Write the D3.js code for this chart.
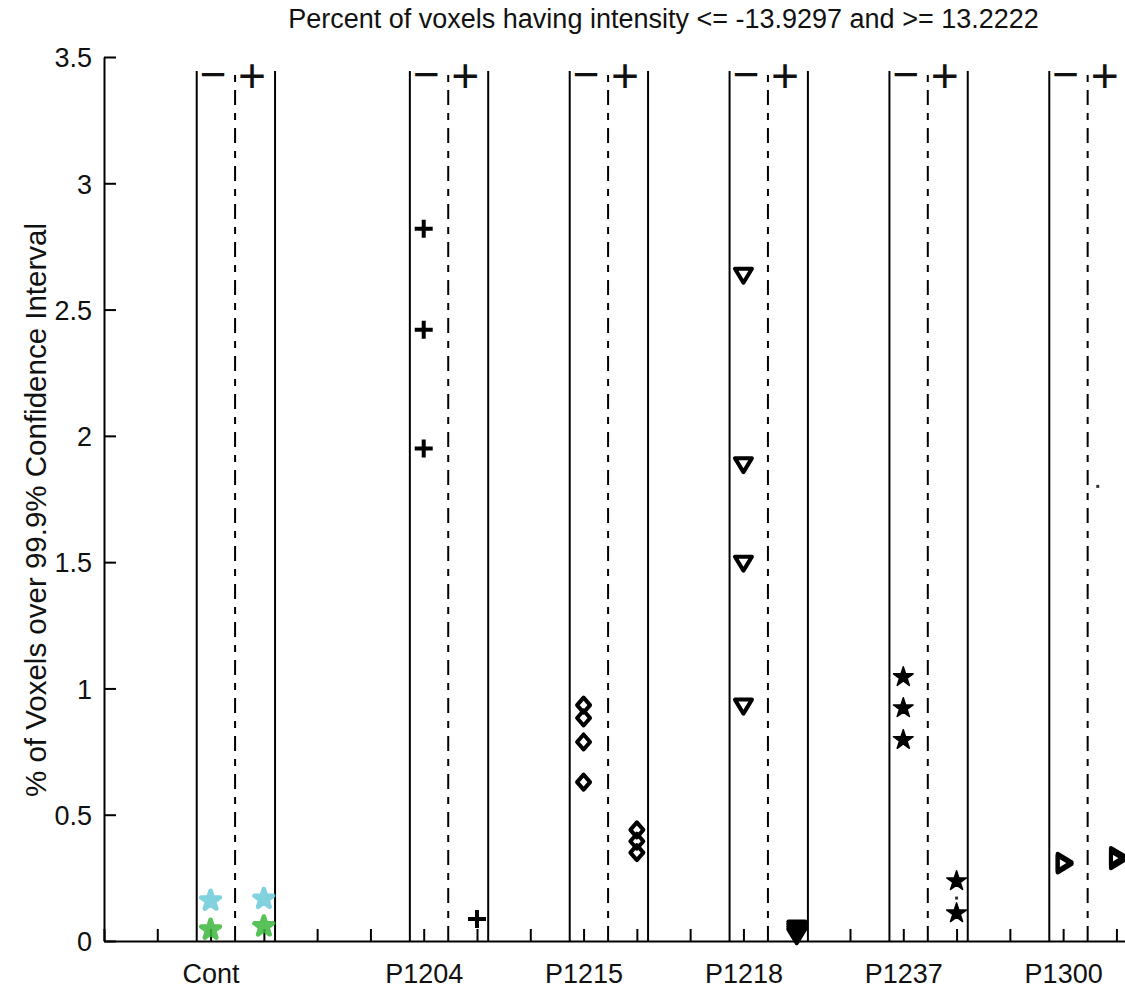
<!DOCTYPE html>
<html>
<head>
<meta charset="utf-8">
<script src="https://cdn.jsdelivr.net/npm/d3@7"></script>
<style>
  body { margin: 0; background: #fff; }
  text { font-family: "Liberation Sans", Arial, sans-serif; fill: #111; }
  .axis path, .axis line { stroke: #000; stroke-width: 2; }
</style>
</head>
<body>
<div id="chart"></div>
<script>
// categories and where they sit on the x axis
const groups = ["Cont", "P1204", "P1215", "P1218", "P1237", "P1300"];
const groupPos = [2, 6, 9, 12, 15, 18];

// "-" side (x = pos) and "+" side (x = pos + 1) values, % of voxels
const minusValues = [
  [0.16, 0.045],
  [2.82, 2.42, 1.95],
  [0.934, 0.883, 0.788, 0.629],
  [2.64, 1.89, 1.50, 0.934],
  [1.045, 0.922, 0.796],
  [0.305, 0.312]
];
const plusValues = [
  [0.167, 0.058],
  [0.087],
  [0.44, 0.395, 0.35],
  [0.055, 0.045, 0.035, 0.025],
  [0.237, 0.11],
  [0.322, 0.335]
];
// stray single-pixel points [x, y]
const dots = [[16, 0.17], [18.65, 1.80]];

const yTicks = [0, 0.5, 1, 1.5, 2, 2.5, 3, 3.5];
const titleText = "Percent of voxels having intensity <= -13.9297 and >= 13.2222";
const yLabelText = "% of Voxels over 99.9% Confidence Interval";

let width = 1125, height = 989;

let svg = d3.select("#chart")
  .append("svg")
  .attr("width", width)
  .attr("height", height);

let x = d3.scaleLinear().domain([0, 21]).range([104, 1223]);
let y = d3.scaleLinear().domain([0, 3.5]).range([941, 57]);

// Y axis, ticks point inward
svg.append("g")
  .attr("class", "axis")
  .attr("transform", "translate(" + x(0) + ",0)")
  .call(d3.axisLeft(y).tickValues(yTicks).tickSize(-12).tickSizeOuter(0).tickPadding(12)
    .tickFormat(d3.format("")))
  .call(g => g.selectAll("text").attr("font-size", 27).attr("dy", "0.36em"));

// X axis, a tick at every integer, label only at groups
svg.append("g")
  .attr("class", "axis")
  .attr("transform", "translate(0," + y(0) + ")")
  .call(d3.axisBottom(x).tickValues(d3.range(0, 22)).tickSize(-12).tickSizeOuter(0).tickPadding(23)
    .tickFormat(d => {
      let i = groupPos.indexOf(d);
      return i < 0 ? "" : groups[i];
    }))
  .call(g => g.selectAll("text").attr("font-size", 27));

// boxes: solid left/right, dash-dot middle
let boxes = svg.append("g");
groupPos.forEach(p => {
  [p - 0.26, p + 1.21].forEach(v => {
    boxes.append("line")
      .attr("x1", x(v)).attr("x2", x(v))
      .attr("y1", y(0)).attr("y2", y(3.445))
      .attr("stroke", "#000").attr("stroke-width", 2);
  });
  boxes.append("line")
    .attr("x1", x(p + 0.46)).attr("x2", x(p + 0.46))
    .attr("y1", y(0)).attr("y2", y(3.435))
    .attr("stroke", "#000").attr("stroke-width", 2)
    .attr("stroke-dasharray", "15,8,7,8");

  boxes.append("text")
    .attr("x", x(p + 0.05)).attr("y", y(3.43) + 15)
    .attr("text-anchor", "middle")
    .attr("font-size", 46)
    .text("\u2212");
  boxes.append("text")
    .attr("x", x(p + 0.78)).attr("y", y(3.43) + 17)
    .attr("text-anchor", "middle")
    .attr("font-size", 48)
    .text("+");
});

// marker paths
const shapes = {
  plus: "M-9,0H9M0,-9V9",
  diamond: "M0,-7.5L6.5,0L0,7.5L-6.5,0Z",
  triDown: "M-8.5,-5.5L8.5,-5.5L0,8.5Z",
  triRight: "M-5.5,-8.5L8.5,0L-5.5,8.5Z"
};
const contColors = ["#6ccbd9", "#3cb83c"];

let marks = svg.append("g");

function drawGroup(i, vals, xv) {
  let g = marks.append("g");
  let pts = g.selectAll("g").data(vals).join("g")
    .attr("transform", d => "translate(" + x(xv) + "," + y(d) + ")");
  if (i === 0) {
    pts.append("path")
      .attr("d", d3.symbol(d3.symbolStar, 110)())
      .attr("fill", (d, j) => contColors[j])
      .attr("stroke", (d, j) => contColors[j])
      .attr("stroke-width", 4.5)
      .attr("stroke-linejoin", "round")
      .attr("opacity", 0.85);
  } else if (i === 4) {
    pts.append("path")
      .attr("d", d3.symbol(d3.symbolStar, 120)())
      .attr("fill", "#000")
      .attr("stroke", "#000")
      .attr("stroke-width", 1.5)
      .attr("stroke-linejoin", "round");
  } else {
    let key = ["", "plus", "diamond", "triDown", "", "triRight"][i];
    pts.append("path")
      .attr("d", shapes[key])
      .attr("fill", "none")
      .attr("stroke", "#000")
      .attr("stroke-width", 4)
      .attr("stroke-linejoin", "round");
  }
}

groupPos.forEach((p, i) => {
  drawGroup(i, minusValues[i], p);
  drawGroup(i, plusValues[i], p + 1);
});

marks.selectAll("rect.dot").data(dots).join("rect")
  .attr("class", "dot")
  .attr("x", d => x(d[0]) - 1.5).attr("y", d => y(d[1]) - 1.5)
  .attr("width", 3).attr("height", 3)
  .attr("fill", "#333");

// title and y label
svg.append("text")
  .attr("x", x(10.5)).attr("y", 28)
  .attr("text-anchor", "middle")
  .attr("font-size", 27)
  .text(titleText);

svg.append("text")
  .attr("transform", "translate(46,510) rotate(-90)")
  .attr("text-anchor", "middle")
  .attr("font-size", 29.5)
  .text(yLabelText);
</script>
</body>
</html>
